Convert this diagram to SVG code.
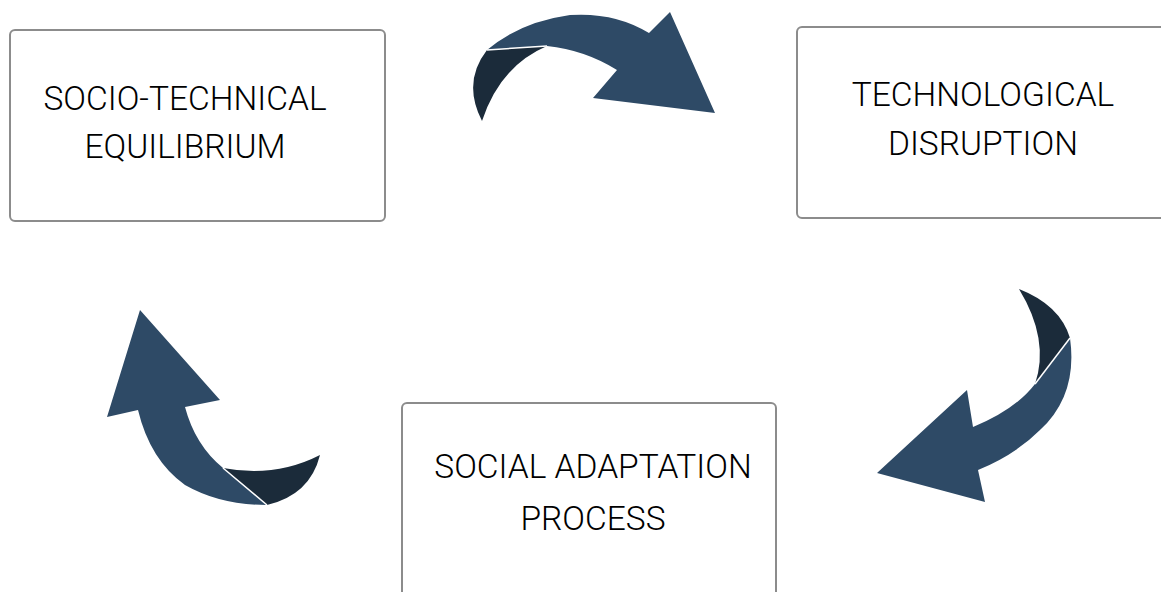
<svg xmlns="http://www.w3.org/2000/svg" width="1161" height="592" viewBox="0 0 1161 592">
  <style>
    .box { fill: #ffffff; stroke: #8c8c8c; stroke-width: 2; }
    .label { font-family: Roboto, "Liberation Sans", Arial, sans-serif; font-weight: 300; font-size: 33.5px; fill: #000000; text-anchor: middle; }
    .body { fill: #2e4a66; }
    .fold { fill: #1b2b3a; }
    .seam { fill: none; stroke: #ffffff; stroke-width: 1.5; }
  </style>
  <rect width="1161" height="592" fill="#ffffff"/>

  <g id="node-equilibrium">
    <rect class="box" x="10" y="30" width="375" height="191" rx="5"/>
    <text class="label" x="185" y="110">SOCIO-TECHNICAL</text>
    <text class="label" x="185" y="158">EQUILIBRIUM</text>
  </g>

  <g id="node-disruption">
    <rect class="box" x="797" y="27" width="380" height="191" rx="5"/>
    <text class="label" x="983" y="106">TECHNOLOGICAL</text>
    <text class="label" x="983" y="155">DISRUPTION</text>
  </g>

  <g id="node-adaptation">
    <rect class="box" x="402" y="403" width="374" height="210" rx="5"/>
    <text class="label" x="593" y="478">SOCIAL ADAPTATION</text>
    <text class="label" x="593" y="530">PROCESS</text>
  </g>

  <g id="connectors">
    <!-- top: equilibrium to disruption -->
    <g id="arrow-top">
      <path class="fold" d="M487,50 L547,46 Q500,66 482,121 Q462,82 487,50 Z"/>
      <path class="body" d="M487,50 Q520,22 570,15 Q615,12 649,33 L670,12 L715,113 L593,98 L617,70 Q585,50 547,46 Z"/>
      <path class="seam" d="M487,50 L547,46"/>
    </g>
    <!-- right: disruption to adaptation -->
    <g id="arrow-right">
      <path class="fold" d="M1019,289 Q1060,305 1070,338 L1035,384 Q1050,340 1019,289 Z"/>
      <path class="body" d="M1070,338 Q1078,395 1040,430 Q1015,455 978,470 L985,502 L877,473 L967,390 L973,427 Q1015,410 1035,384 Z"/>
      <path class="seam" d="M1070,338 L1035,384"/>
    </g>
    <!-- left: adaptation to equilibrium -->
    <g id="arrow-left">
      <path class="fold" d="M223,468 Q275,478 320,455 Q310,495 267,505 Z"/>
      <path class="body" d="M138,410 Q150,460 185,485 Q220,505 267,505 L223,468 Q195,445 185,407 L220,400 L140,310 L107,417 Z"/>
      <path class="seam" d="M223,468 L267,505"/>
    </g>
  </g>
</svg>
